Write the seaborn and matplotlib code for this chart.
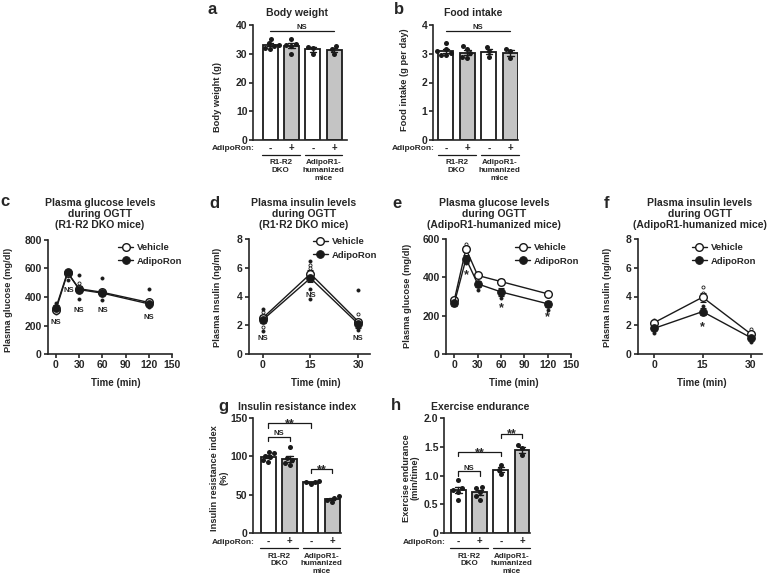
import numpy as np
import pandas as pd
import matplotlib
matplotlib.use("Agg")
import matplotlib.pyplot as plt
import matplotlib.transforms as mtrans
import seaborn as sns

sns.set_theme(style="ticks")
plt.rcParams["font.family"] = ["Liberation Sans", "DejaVu Sans"]
plt.rcParams["font.weight"] = "bold"
plt.rcParams["axes.labelweight"] = "bold"
plt.rcParams["axes.linewidth"] = 1.2
plt.rcParams["xtick.major.width"] = 1.2
plt.rcParams["ytick.major.width"] = 1.2

W, H = 767, 580

# ---- data: bar panels ----
groups = ["DKO veh", "DKO adipo", "hum veh", "hum adipo"]
adipo_signs = ["-", "+", "-", "+"]
bar_colors = ["white", "#c4c4c4", "white", "#c4c4c4"]

bw_dots = [[35.3, 33.7, 33.1, 32.8, 32.1, 31.5],
           [35.1, 33.3, 33.0, 32.7, 30.0],
           [32.5, 32.1, 30.0],
           [32.6, 31.6, 30.0]]
food_dots = [[3.38, 3.18, 3.08, 3.02, 2.97, 2.95],
             [3.27, 3.17, 3.01, 2.86, 2.90],
             [3.24, 3.08, 2.90],
             [3.15, 3.08, 2.84]]
iri_dots = [[106, 104, 101, 99, 95, 93],
            [112, 98, 95, 91, 89],
            [68, 67, 66, 64],
            [48, 46, 43, 40]]
endur_dots = [[0.92, 0.78, 0.75, 0.72, 0.58],
              [0.80, 0.79, 0.72, 0.64, 0.58],
              [1.18, 1.10, 1.02],
              [1.53, 1.47, 1.35]]

# ---- data: OGTT panels ----
ogtt_glc_time = [0, 15, 30, 60, 120]
ogtt_ins_time = [0, 15, 30]

c_veh = [312, 568, 458, 433, 362]
c_veh_se = [14, 12, 22, 18, 15]
c_adi = [325, 575, 452, 427, 352]
c_adi_se = [16, 10, 20, 16, 14]
c_dot_adi_x = [0, 15, 30, 30, 60, 60, 120, 120]
c_dot_adi_y = [356, 519, 554, 384, 536, 379, 456, 332]
c_dot_veh_x = [0, 30, 60, 120]
c_dot_veh_y = [285, 496, 437, 367]
c_ns = [(0, 233), (17, 456), (30, 316), (60, 316), (120, 267)]

d_veh = [2.50, 5.58, 2.26]
d_veh_se = [0.20, 0.25, 0.20]
d_adi = [2.37, 5.28, 2.10]
d_adi_se = [0.20, 0.30, 0.30]
d_dot_adi_x = [0, 0, 15, 15, 15, 30, 30, 30]
d_dot_adi_y = [3.14, 1.63, 6.44, 4.53, 3.81, 4.47, 1.79, 1.67]
d_dot_veh_x = [0, 0, 15, 15, 30]
d_dot_veh_y = [2.95, 1.90, 6.20, 5.95, 2.79]
d_ns = [(0, 1.2), (15, 4.17), (30, 1.2)]

e_veh = [282, 549, 410, 378, 314]
e_veh_se = [10, 15, 10, 12, 10]
e_adi = [265, 497, 366, 324, 262]
e_adi_se = [12, 20, 15, 20, 15]
e_dot_veh_x = [15, 15]
e_dot_veh_y = [575, 560]
e_dot_adi_x = [15, 30, 60, 120]
e_dot_adi_y = [474, 335, 291, 232]
e_star = [(15, 435), (60, 261), (120, 214)]

f_veh = [2.19, 3.95, 1.40]
f_veh_se = [0.10, 0.30, 0.10]
f_adi = [1.79, 2.95, 1.14]
f_adi_se = [0.15, 0.25, 0.10]
f_dot_veh_x = [0, 15, 15, 30]
f_dot_veh_y = [2.37, 4.65, 4.23, 1.74]
f_dot_adi_x = [0, 15, 30]
f_dot_adi_y = [1.49, 3.37, 0.86]
f_star = [(15, 2.2)]

fig = plt.figure(figsize=(W / 100, H / 100), dpi=100)


def add_box(l, t, r, b):
    return fig.add_axes([l / W, 1 - b / H, (r - l) / W, (b - t) / H])


def ftext(x, y, s, **kw):
    fig.text(x / W, 1 - y / H, s, **kw)


def set_ylab(ax, box, s, px, py, fs=6.7):
    l, t, r, b = box
    ax.set_ylabel(s, fontsize=fs, va="center", ha="center", linespacing=1.0)
    ax.yaxis.set_label_coords((px - l) / (r - l), (b - py) / (b - t))


def glyph(ax, x, y, s, fs, off):
    ax.annotate(s, (x, y), xytext=(0, -off * fs), textcoords="offset points",
                ha="center", va="baseline", fontsize=fs, annotation_clip=False)


def bar_panel(box, dots, xlim, ylim, yticks, yticklabels, ylabel, ylab_xy, dko_name):
    l, t, r, b = box
    ax = add_box(*box)
    df = pd.DataFrame([(g, v) for g, vals in zip(groups, dots) for v in vals],
                      columns=["group", "value"])
    sns.barplot(data=df, x="group", y="value", hue="group", order=groups,
                hue_order=groups, palette=bar_colors, errorbar="se", capsize=0.3,
                err_kws={"color": "k", "linewidth": 1.0}, edgecolor="k",
                linewidth=1.3, width=0.7, legend=False, ax=ax)
    sns.swarmplot(data=df, x="group", y="value", order=groups, color="k",
                  size=3.6, ax=ax)
    ax.set_xlim(xlim)
    ax.set_ylim(ylim)
    ax.set_yticks(yticks)
    ax.set_yticklabels(yticklabels)
    ax.set_xticks(range(4))
    ax.set_xticklabels(adipo_signs)
    ax.tick_params(axis="x", length=0, pad=2.5, labelsize=7)
    ax.tick_params(axis="y", length=3, pad=1, labelsize=7.5)
    sns.despine(ax=ax)
    ax.set_xlabel("")
    set_ylab(ax, box, ylabel, *ylab_xy)
    hpx = b - t
    ax.annotate("AdipoRon:", (0.02, 0), xycoords="axes fraction",
                xytext=(0, -9 * 0.72), textcoords="offset points",
                ha="right", va="center", fontsize=6)
    tr = mtrans.blended_transform_factory(ax.transData, ax.transAxes)
    for x0, name in [(0, dko_name), (2, "AdipoR1-\nhumanized\nmice")]:
        ax.plot([x0 - 0.38, x0 + 1.38], [-14.5 / hpx] * 2, color="k", lw=0.9,
                transform=tr, clip_on=False)
        ax.annotate(name, (x0 + 0.5, 0), xycoords=tr, xytext=(0, -19.5 * 0.72),
                    textcoords="offset points", ha="center", va="top",
                    fontsize=5.8, linespacing=1.15)
    return ax


def bracket(ax, x0, x1, y, h, s, fs, off):
    ax.plot([x0, x0, x1, x1], [y - h, y, y, y - h], color="k", lw=0.9,
            clip_on=False)
    glyph(ax, (x0 + x1) / 2, y, s, fs, off)


def line_panel(box, t, veh, veh_se, adi, adi_se, vx, vy, ax_, ay_, xlim, ylim,
               xticks, yticks, ylabel, ylab_xy, xlab_x, leg_xy):
    l, tp, r, b = box
    ax = add_box(*box)
    ax.errorbar(t, veh, yerr=veh_se, fmt="none", ecolor="k", elinewidth=0.8,
                capsize=2, capthick=0.8, zorder=2)
    ax.errorbar(t, adi, yerr=adi_se, fmt="none", ecolor="k", elinewidth=0.8,
                capsize=2, capthick=0.8, zorder=2)
    sns.scatterplot(x=vx, y=vy, s=5, color="white", edgecolor="k",
                    linewidth=0.6, ax=ax, zorder=2)
    sns.scatterplot(x=ax_, y=ay_, s=5, color="k", edgecolor="k",
                    linewidth=0.6, ax=ax, zorder=2)
    sns.lineplot(x=t, y=veh, color="k", marker="o", markerfacecolor="white",
                 markeredgecolor="k", markeredgewidth=1.0, markersize=5.5,
                 linewidth=1.0, label="Vehicle", ax=ax, zorder=3)
    sns.lineplot(x=t, y=adi, color="k", marker="o", markerfacecolor="k",
                 markeredgecolor="k", markersize=5.5, linewidth=1.0,
                 label="AdipoRon", ax=ax, zorder=4)
    ax.set_xlim(xlim)
    ax.set_ylim(ylim)
    ax.set_xticks(xticks)
    ax.set_yticks(yticks)
    ax.tick_params(axis="both", length=3, pad=1.5, labelsize=7.5)
    sns.despine(ax=ax)
    set_ylab(ax, box, ylabel, *ylab_xy)
    ax.set_xlabel("Time (min)", fontsize=7)
    ax.xaxis.set_label_coords((xlab_x - l) / (r - l), (b - 383) / (b - tp))
    ax.xaxis.label.set_va("center")
    ax.legend(loc="upper left", bbox_to_anchor=leg_xy, frameon=False,
              fontsize=6.8, handlelength=1.6, handletextpad=0.4,
              labelspacing=0.5, borderaxespad=0, borderpad=0)
    return ax


# ---- a: body weight ----
box_a = (253, 25, 347, 140)
ax_a = bar_panel(box_a, bw_dots, (-0.8, 3.6), (0, 40), [0, 10, 20, 30, 40],
                 ["0", "10", "20", "30", "40"], "Body weight (g)", (217, 97), "R1-R2\nDKO")
bracket(ax_a, 0, 3, 38, 0, "NS", 5.5, -0.25)

# ---- b: food intake ----
box_b = (433, 25, 518, 140)
ax_b = bar_panel(box_b, food_dots, (-0.6, 3.35), (0, 4), [0, 1, 2, 3, 4],
                 ["0", "1", "2", "3", "4"], "Food intake (g per day)", (405, 80), "R1-R2\nDKO")
bracket(ax_b, 0, 3, 3.8, 0, "NS", 5.5, -0.25)

# ---- g: insulin resistance ----
box_g = (253, 418, 341, 533)
ax_g = bar_panel(box_g, iri_dots, (-0.72, 3.42), (0, 150), [0, 50, 100, 150],
                 ["0", "50", "100", "150"], "Insulin resistance index\n(%)", (219, 478),
                 "R1-R2\nDKO")
bracket(ax_g, 0, 1, 125, 5, "NS", 5.5, -0.25)
bracket(ax_g, 0, 2, 143.5, 6, "**", 9, 0.3)
bracket(ax_g, 2, 3, 83.5, 5, "**", 9, 0.3)

# ---- h: exercise endurance ----
box_h = (444, 418, 530, 533)
ax_h = bar_panel(box_h, endur_dots, (-0.68, 3.38), (0, 2.0), [0, 0.5, 1.0, 1.5, 2.0],
                 ["0", "0.5", "1.0", "1.5", "2.0"], "Exercise endurance\n(min/time)", (411, 478),
                 "R1·R2\nDKO")
bracket(ax_h, 0, 1, 1.07, 0.07, "NS", 5.5, -0.25)
bracket(ax_h, 0, 2, 1.41, 0.07, "**", 9, 0.3)
bracket(ax_h, 2, 3, 1.73, 0.07, "**", 9, 0.3)

# ---- c ----
box_c = (48, 240, 172, 354)
ax_c = line_panel(box_c, ogtt_glc_time, c_veh, c_veh_se, c_adi, c_adi_se,
                  c_dot_veh_x, c_dot_veh_y, c_dot_adi_x, c_dot_adi_y,
                  (-10.3, 150), (0, 800), [0, 30, 60, 90, 120, 150],
                  [0, 200, 400, 600, 800], "Plasma glucose (mg/dl)", (8, 300), 116,
                  (0.565, 0.974))
for x, y in c_ns:
    glyph(ax_c, x, y, "NS", 5.5, 0.36)

# ---- d ----
box_d = (249, 239, 370, 354)
ax_d = line_panel(box_d, ogtt_ins_time, d_veh, d_veh_se, d_adi, d_adi_se,
                  d_dot_veh_x, d_dot_veh_y, d_dot_adi_x, d_dot_adi_y,
                  (-4.3, 33.7), (0, 8), [0, 15, 30], [0, 2, 4, 6, 8],
                  "Plasma Insulin (ng/ml)", (217, 297), 316, (0.526, 1.017))
for x, y in d_ns:
    glyph(ax_d, x, y, "NS", 5.5, 0.36)

# ---- e ----
box_e = (446, 239, 571, 354)
ax_e = line_panel(box_e, ogtt_glc_time, e_veh, e_veh_se, e_adi, e_adi_se,
                  e_dot_veh_x, e_dot_veh_y, e_dot_adi_x, e_dot_adi_y,
                  (-10.7, 150), (0, 600), [0, 30, 60, 90, 120, 150],
                  [0, 200, 400, 600], "Plasma glucose (mg/dl)", (407, 296), 514,
                  (0.552, 0.965))
for x, y in e_star:
    glyph(ax_e, x, y, "*", 9, 0.6)

# ---- f ----
box_f = (638, 239, 762, 354)
ax_f = line_panel(box_f, ogtt_ins_time, f_veh, f_veh_se, f_adi, f_adi_se,
                  f_dot_veh_x, f_dot_veh_y, f_dot_adi_x, f_dot_adi_y,
                  (-5.1, 33.5), (0, 8), [0, 15, 30], [0, 2, 4, 6, 8],
                  "Plasma Insulin (ng/ml)", (608, 297), 702, (0.433, 0.965))
for x, y in f_star:
    glyph(ax_f, x, y, "*", 9, 0.6)

# ---- titles and panel letters ----
ttl = dict(ha="center", va="center", fontsize=7.5, linespacing=1.15)
ftext(297, 13, "Body weight", **ttl)
ftext(473, 13, "Food intake", **ttl)
ftext(100, 214, "Plasma glucose levels\nduring OGTT\n(R1·R2 DKO mice)", **ttl)
ftext(304, 214, "Plasma insulin levels\nduring OGTT\n(R1·R2 DKO mice)", **ttl)
ftext(494, 214, "Plasma glucose levels\nduring OGTT\n(AdipoR1-humanized mice)", **ttl)
ftext(700, 214, "Plasma insulin levels\nduring OGTT\n(AdipoR1-humanized mice)", **ttl)
ftext(297, 407, "Insulin resistance index", **ttl)
ftext(480, 407, "Exercise endurance", **ttl)

let = dict(ha="center", va="center", fontsize=12, fontweight="bold")
for s, x, y in [("a", 212, 9), ("b", 399, 9), ("c", 5, 202), ("d", 214, 203),
                ("e", 397, 203), ("f", 607, 203), ("g", 223, 406), ("h", 396, 406)]:
    ftext(x, y, s, **let)

fig.savefig("out.png", dpi=100)
